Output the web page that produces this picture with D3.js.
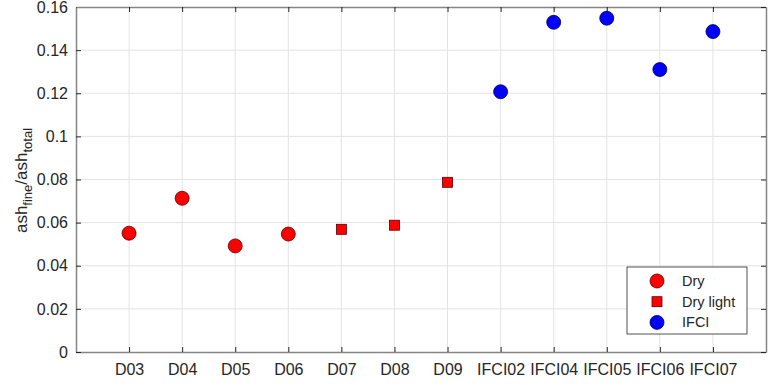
<!DOCTYPE html>
<html>
<head>
<meta charset="utf-8">
<script src="https://cdn.jsdelivr.net/npm/d3@7"></script>
<style>
body { margin: 0; background: #fff; }
text { font-family: "Liberation Sans", Arial, sans-serif; }
</style>
</head>
<body>
<svg id="chart"></svg>
<script>
var categories = ["D03","D04","D05","D06","D07","D08","D09","IFCI02","IFCI04","IFCI05","IFCI06","IFCI07"];
var groups = ["Dry","Dry","Dry","Dry","Dry light","Dry light","Dry light","IFCI","IFCI","IFCI","IFCI","IFCI"];
var values = [0.0551, 0.0713, 0.0492, 0.0547, 0.0569, 0.0588, 0.0787, 0.1207, 0.1529, 0.1548, 0.1310, 0.1486];
var yTicks = [0, 0.02, 0.04, 0.06, 0.08, 0.1, 0.12, 0.14, 0.16];
var legendNames = ["Dry", "Dry light", "IFCI"];

var W = 774, H = 389;
var plotL = 76, plotR = 766, plotT = 7, plotB = 352;

var svg = d3.select("#chart").attr("width", W).attr("height", H);

var x = d3.scaleLinear().domain([0, categories.length + 1]).range([plotL, plotR]);
var y = d3.scaleLinear().domain([0, 0.16]).range([plotB, plotT]);

var style = {
    "Dry": {shape: "circle", fill: "#ff0000", stroke: "#5a0000"},
    "Dry light": {shape: "square", fill: "#ff0000", stroke: "#5a0000"},
    "IFCI": {shape: "circle", fill: "#0000ff", stroke: "#000050"}
};

// grid
svg.append("g").selectAll("line").data(categories).enter().append("line")
    .attr("x1", function(d, i){ return x(i + 1); })
    .attr("x2", function(d, i){ return x(i + 1); })
    .attr("y1", plotT).attr("y2", plotB)
    .attr("stroke", "#e3e3e3").attr("stroke-width", 1);
svg.append("g").selectAll("line").data(yTicks.slice(1, -1)).enter().append("line")
    .attr("x1", plotL).attr("x2", plotR)
    .attr("y1", function(d){ return y(d); })
    .attr("y2", function(d){ return y(d); })
    .attr("stroke", "#e3e3e3").attr("stroke-width", 1);

// axes
var xAxis = d3.axisBottom(x)
    .tickValues(d3.range(1, categories.length + 1))
    .tickFormat(function(d){ return categories[d - 1]; })
    .tickSizeInner(-5).tickSizeOuter(0).tickPadding(12);
var gx = svg.append("g").attr("transform", "translate(0," + plotB + ")").call(xAxis);

var yAxis = d3.axisLeft(y)
    .tickValues(yTicks)
    .tickFormat(function(d){ return d === 0 ? "0" : String(+d.toFixed(2)); })
    .tickSizeInner(-5).tickSizeOuter(0).tickPadding(8);
var gy = svg.append("g").attr("transform", "translate(" + plotL + ",0)").call(yAxis);

var gxt = svg.append("g").attr("transform", "translate(0," + plotT + ")")
    .call(d3.axisTop(x).tickValues(d3.range(1, categories.length + 1)).tickFormat("").tickSizeInner(-5).tickSizeOuter(0));
var gyr = svg.append("g").attr("transform", "translate(" + plotR + ",0)")
    .call(d3.axisRight(y).tickValues(yTicks).tickFormat("").tickSizeInner(-5).tickSizeOuter(0));

[gx, gy, gxt, gyr].forEach(function(g){
    g.select(".domain").attr("stroke", "#858585").attr("stroke-width", 1.5);
    g.selectAll(".tick line").attr("stroke", "#262626");
    g.selectAll(".tick text").attr("fill", "#262626").style("font-size", "16px")
        .style("font-family", "'Liberation Sans', Arial, sans-serif");
});
gx.selectAll(".tick text").attr("dy", "0.71em");

// y label
var yl = svg.append("text")
    .attr("transform", "translate(27," + ((plotT + plotB) / 2 + 1) + ") rotate(-90)")
    .attr("text-anchor", "middle")
    .attr("fill", "#262626")
    .style("font-size", "17px");
yl.append("tspan").text("ash");
yl.append("tspan").attr("dy", 5).style("font-size", "13px").text("fine");
yl.append("tspan").attr("dy", -5).text("/ash");
yl.append("tspan").attr("dy", 5).style("font-size", "13px").text("total");

function drawMarker(g, cx, cy, s) {
    if (s.shape === "circle") {
        g.append("circle").attr("cx", cx).attr("cy", cy).attr("r", 7)
            .attr("fill", s.fill).attr("stroke", s.stroke).attr("stroke-width", 0.8);
    } else {
        g.append("rect").attr("x", cx - 5).attr("y", cy - 5).attr("width", 10).attr("height", 10)
            .attr("fill", s.fill).attr("stroke", s.stroke).attr("stroke-width", 0.8);
    }
}

var pts = svg.append("g");
values.forEach(function(v, i){
    drawMarker(pts, x(i + 1), y(v), style[groups[i]]);
});

// legend
var lg = svg.append("g");
lg.append("rect").attr("x", 627).attr("y", 267).attr("width", 120).attr("height", 67)
    .attr("fill", "#fff").attr("stroke", "#262626").attr("stroke-width", 0.8);
legendNames.forEach(function(n, i){
    var cy = 281 + i * 20.7;
    drawMarker(lg, 657, cy, style[n]);
    lg.append("text").attr("x", 682).attr("y", cy).attr("dy", "0.35em")
        .attr("fill", "#262626").style("font-size", "14.5px").text(n);
});
</script>
</body>
</html>
